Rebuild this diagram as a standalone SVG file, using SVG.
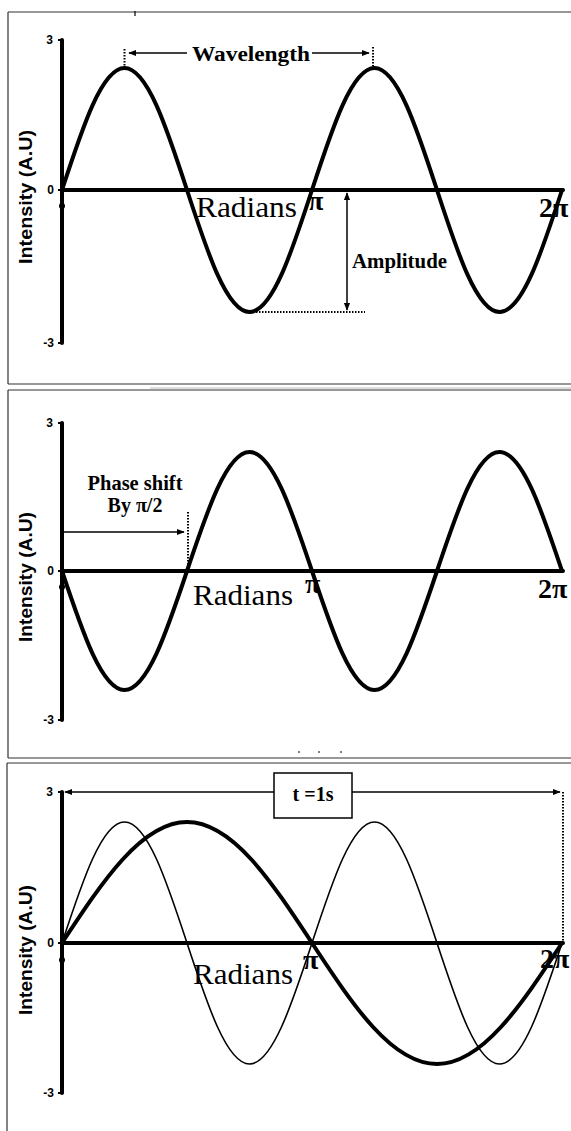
<svg xmlns="http://www.w3.org/2000/svg" width="571" height="1131" viewBox="0 0 571 1131">
<style>
.frame{stroke:#333;stroke-width:1.2;fill:none}
.axis{stroke:#000;stroke-width:4;fill:none;stroke-linecap:round}
.tick{stroke:#000;stroke-width:2;fill:none}
.wave{stroke:#000;stroke-width:4;fill:none}
.thin{stroke:#000;stroke-width:1.6;fill:none}
.arr{stroke:#000;stroke-width:1.5;fill:none}
.dot{stroke:#000;stroke-width:2;fill:none;stroke-dasharray:1.5 1.5}
.tl{font-family:"Liberation Sans",Arial,sans-serif;font-weight:bold;font-size:12px;fill:#000}
.yl{font-family:"Liberation Sans",Arial,sans-serif;font-weight:bold;font-size:19px;fill:#000}
.rad{font-family:"Liberation Serif","Times New Roman",serif;font-size:30px;fill:#000}
.pi{font-family:"Liberation Serif","Times New Roman",serif;font-weight:bold;font-size:28px;fill:#000}
.pi2{font-family:"Liberation Serif","Times New Roman",serif;font-weight:bold;font-size:28px;fill:#000}
.lab{font-family:"Liberation Serif","Times New Roman",serif;font-weight:bold;font-size:20px;fill:#000}
</style>
<defs>
<marker id="ah" viewBox="0 0 10 10" refX="9" refY="5" markerWidth="8" markerHeight="8" markerUnits="userSpaceOnUse" orient="auto-start-reverse">
<path d="M0,1 L10,5 L0,9 Z" fill="#000"/>
</marker>
</defs>
<rect width="571" height="1131" fill="#fff"/>

<g id="frames">
<path class="frame" d="M8,12 H571 M8,12 V384 M8,384 H571"/>
<path d="M150,388 H571" stroke="#bbb" stroke-width="1"/>
<path class="frame" d="M8,390 H571 M8,390 V758 M8,758 H571"/>
<path class="frame" d="M7,763 H571 M7,763 V1131"/>
<path d="M135,11 V16" stroke="#000" stroke-width="1.2"/>
<path d="M298,752 h2 M318,752 h2 M340,752 h2" stroke="#000" stroke-width="1.2"/>
</g>

<g id="panel1">
<path class="axis" d="M62,40 V343"/>
<path class="axis" d="M62,190 H563"/>
<path class="tick" d="M58,40 H62 M58,190 H62 M58,343 H62"/>
<circle cx="62" cy="206" r="3" fill="#000"/>
<text class="tl" x="53" y="44" text-anchor="end">3</text>
<text class="tl" x="54" y="194" text-anchor="end">0</text>
<text class="tl" x="54" y="347" text-anchor="end">-3</text>
<text class="yl" transform="translate(32,197) rotate(-90)" text-anchor="middle" textLength="134" lengthAdjust="spacingAndGlyphs">Intensity (A.U)</text>
<path class="wave" d="M62,190 C82.38,127.5 101.88,68 124.5,68 S166.62,127.5 187,190 S226.88,312 249.5,312 S291.62,252.5 312,190 S351.88,68 374.5,68 S416.62,127.5 437,190 S476.88,312 499.5,312 S541.62,252.5 562,190"/>
<text class="rad" x="196" y="217" textLength="101" lengthAdjust="spacingAndGlyphs">Radians</text>
<text class="pi" x="308" y="210">π</text>
<text class="pi2" x="539" y="217">2π</text>
<text class="lab" x="251" y="61" text-anchor="middle" font-size="22" textLength="118" lengthAdjust="spacingAndGlyphs">Wavelength</text>
<text class="lab" x="352" y="268" textLength="95" lengthAdjust="spacingAndGlyphs">Amplitude</text>
</g>

<g id="panel2">
<path class="axis" d="M62,423 V720"/>
<path class="axis" d="M62,571 H563"/>
<path class="tick" d="M58,423 H62 M58,571 H62 M58,720 H62"/>
<circle cx="62" cy="587" r="3" fill="#000"/>
<text class="tl" x="53" y="427" text-anchor="end">3</text>
<text class="tl" x="54" y="575" text-anchor="end">0</text>
<text class="tl" x="54" y="724" text-anchor="end">-3</text>
<text class="yl" transform="translate(32,577) rotate(-90)" text-anchor="middle" textLength="130" lengthAdjust="spacingAndGlyphs">Intensity (A.U)</text>
<path class="wave" d="M62,571 C82.38,632 101.88,690 124.5,690 S166.62,632 187,571 S226.88,452 249.5,452 S291.62,510 312,571 S351.88,690 374.5,690 S416.62,632 437,571 S476.88,452 499.5,452 S541.62,510 562,571"/>
<text class="rad" x="193" y="605" textLength="100" lengthAdjust="spacingAndGlyphs">Radians</text>
<text class="pi" x="305" y="593">π</text>
<text class="pi2" x="538" y="598">2π</text>
<text class="lab" x="135" y="490" text-anchor="middle" textLength="95" lengthAdjust="spacingAndGlyphs">Phase shift</text>
<text class="lab" x="135" y="512" text-anchor="middle">By π/2</text>
</g>

<g id="panel3">
<path class="axis" d="M62,792 V1093"/>
<path class="axis" d="M62,943 H563"/>
<path class="tick" d="M58,792 H62 M58,943 H62 M58,1093 H62"/>
<circle cx="62" cy="960" r="3" fill="#000"/>
<text class="tl" x="53" y="796" text-anchor="end">3</text>
<text class="tl" x="54" y="947" text-anchor="end">0</text>
<text class="tl" x="54" y="1097" text-anchor="end">-3</text>
<text class="yl" transform="translate(32,950) rotate(-90)" text-anchor="middle" textLength="130" lengthAdjust="spacingAndGlyphs">Intensity (A.U)</text>
<path class="thin" d="M62,943 C82.38,881 101.88,822 124.5,822 S166.62,881 187,943 S226.88,1064 249.5,1064 S291.62,1005 312,943 S351.88,822 374.5,822 S416.62,881 437,943 S476.88,1064 499.5,1064 S541.62,1005 562,943"/>
<path class="wave" d="M62,943 C102.76,881 141.76,822 187,822 S271.24,881 312,943 S391.76,1064 437,1064 S521.24,1005 562,943"/>
<text class="rad" x="193" y="984" textLength="100" lengthAdjust="spacingAndGlyphs">Radians</text>
<text class="pi" x="303" y="969">π</text>
<text class="pi2" x="540" y="968">2π</text>
</g>

<g id="box-t">
<rect x="274" y="773" width="78" height="45" fill="#fff" stroke="#000" stroke-width="1.5"/>
<text class="lab" x="313" y="801" text-anchor="middle" font-size="21">t =1s</text>
</g>

<g id="connectors">
<path class="arr" d="M187,53 H129" marker-end="url(#ah)"/>
<path class="arr" d="M312,53 H369" marker-end="url(#ah)"/>
<path class="dot" d="M124.5,49 V67"/>
<path class="dot" d="M373,47 V67"/>
<path class="arr" d="M347,193 V310" marker-start="url(#ah)" marker-end="url(#ah)"/>
<path class="dot" d="M250,312 H365"/>
<path class="arr" d="M64,532 H184" marker-end="url(#ah)"/>
<path class="dot" d="M188,512 V570"/>
<path class="arr" d="M274,792 H65" marker-end="url(#ah)"/>
<path class="arr" d="M352,792 H560" marker-end="url(#ah)"/>
<path class="dot" d="M563,792 V942"/>
</g>
</svg>
